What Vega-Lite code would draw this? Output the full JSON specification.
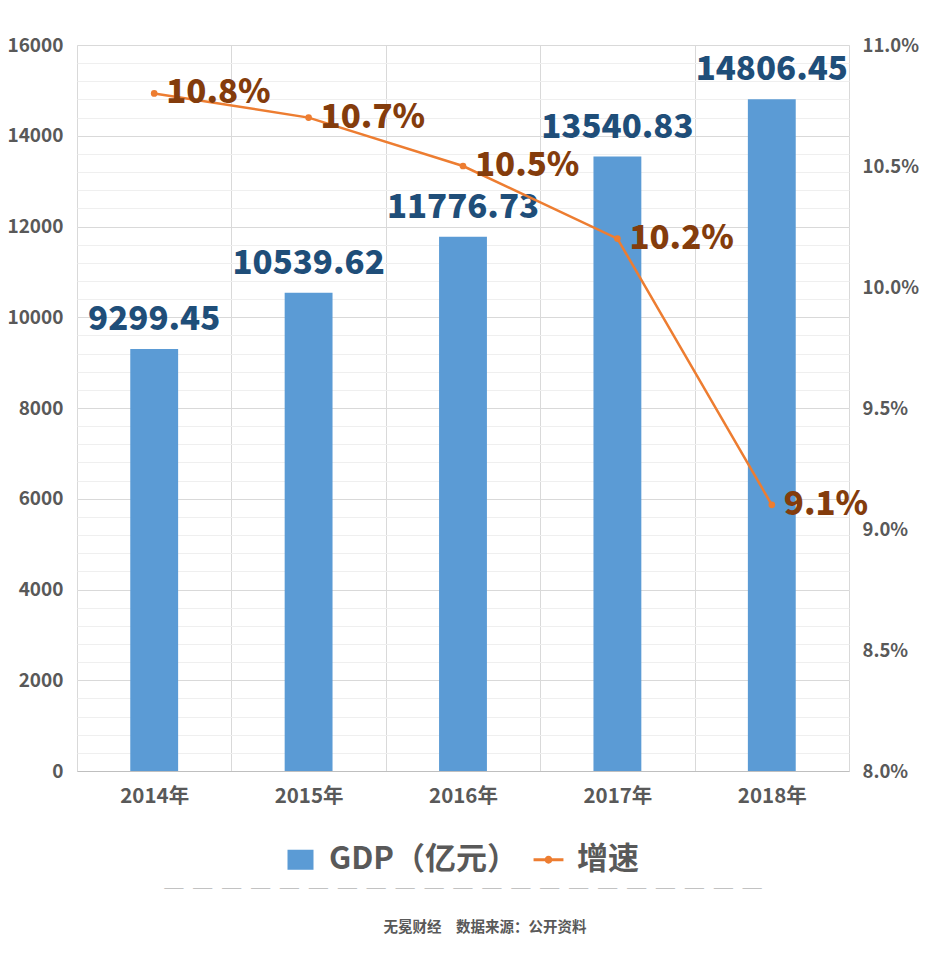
{
  "$schema": "https://vega.github.io/schema/vega-lite/v6.json",
  "width": 772,
  "height": 726,
  "autosize": "none",
  "padding": {"left": 77, "top": 45, "right": 82, "bottom": 189},
  "background": "white",
  "config": {
    "view": {"stroke": "#d9d9d9"},
    "font": "Noto Sans CJK SC"
  },
  "data": {
    "values": [
      {"year": "2014年", "gdp": 9299.45, "pct": 0.108},
      {"year": "2015年", "gdp": 10539.62, "pct": 0.107},
      {"year": "2016年", "gdp": 11776.73, "pct": 0.105},
      {"year": "2017年", "gdp": 13540.83, "pct": 0.102},
      {"year": "2018年", "gdp": 14806.45, "pct": 0.091}
    ]
  },
  "encoding": {
    "x": {
      "field": "year",
      "type": "ordinal",
      "sort": null,
      "scale": {"paddingInner": 0, "paddingOuter": 0},
      "axis": {
        "title": null,
        "labelAngle": 0,
        "grid": true,
        "tickBand": "extent",
        "gridColor": "#d9d9d9",
        "domainColor": "#bfbfbf",
        "ticks": false,
        "labelPadding": 15,
        "labelFontSize": 20.5,
        "labelFontWeight": "bold",
        "labelColor": "#595959"
      }
    }
  },
  "layer": [
    {
      "layer": [
        {
          "mark": {"type": "bar", "width": {"band": 0.31}, "color": "#5B9BD5"},
          "encoding": {
            "y": {
              "field": "gdp",
              "type": "quantitative",
              "scale": {"domain": [0, 16000], "nice": false},
              "axis": {
                "orient": "right",
                "values": [0,400,800,1200,1600,2000,2400,2800,3200,3600,4000,4400,4800,5200,5600,6000,6400,6800,7200,7600,8000,8400,8800,9200,9600,10000,10400,10800,11200,11600,12000,12400,12800,13200,13600,14000,14400,14800,15200,15600,16000],
                "grid": true,
                "gridColor": "#efefef",
                "labels": false,
                "ticks": false,
                "domain": false,
                "title": null
              }
            },
            "color": {
              "datum": "GDP（亿元）",
              "type": "nominal",
              "scale": {"domain": ["GDP（亿元）", "增速"], "range": ["#5B9BD5", "#ED7D31"]},
              "legend": {
                "title": null,
                "orient": "none",
                "direction": "horizontal",
                "legendX": 208,
                "legendY": 799,
                "labelFontSize": 31,
                "labelFontWeight": "bold",
                "labelColor": "#595959",
                "labelLimit": 400,
                "symbolSize": 676,
                "columnPadding": 14,
                "labelOffset": 13,
                "encode": {
                  "symbols": {
                    "update": {
                      "shape": {"signal": "datum.value === '增速' ? 'M-1.15,-0.115H1.15V0.115H-1.15Z M0.3,0 A0.3,0.3 0 1,1 -0.3,0 A0.3,0.3 0 1,1 0.3,0Z' : 'M-1,-0.77H1V0.77H-1Z'"},
                      "fill": {"signal": "datum.value === '增速' ? '#ED7D31' : '#5B9BD5'"},
                      "strokeWidth": {"value": 0},
                      "opacity": {"value": 1}
                    }
                  }
                }
              }
            }
          }
        },
        {
          "mark": {"type": "text", "fontSize": 33, "fontWeight": 900, "color": "#1F4E79", "baseline": "bottom", "dy": -12},
          "encoding": {
            "y": {
              "field": "gdp",
              "type": "quantitative",
              "scale": {"domain": [0, 16000], "nice": false},
              "axis": {
                "orient": "left",
                "values": [0,2000,4000,6000,8000,10000,12000,14000,16000],
                "format": "d",
                "grid": true,
                "gridColor": "#d9d9d9",
                "domain": false,
                "ticks": false,
                "labelPadding": 14,
                "labelFontSize": 19,
                "labelFontWeight": "bold",
                "labelColor": "#595959",
                "title": null
              }
            },
            "text": {"field": "gdp", "type": "quantitative", "format": ".2f"}
          }
        }
      ]
    },
    {
      "encoding": {
        "y": {
          "field": "pct",
          "type": "quantitative",
          "scale": {"domain": [0.08, 0.11], "nice": false, "zero": false},
          "axis": {
            "orient": "right",
            "values": [0.08, 0.085, 0.09, 0.095, 0.1, 0.105, 0.11],
            "format": ".1%",
            "grid": false,
            "domain": false,
            "ticks": false,
            "labelPadding": 13,
            "labelFontSize": 18.5,
            "labelFontWeight": "bold",
            "labelColor": "#595959",
            "title": null
          }
        }
      },
      "layer": [
        {
          "mark": {"type": "line", "strokeWidth": 2.5, "point": {"filled": true, "size": 45, "color": "#ED7D31"}},
          "encoding": {
            "color": {"datum": "增速", "type": "nominal"}
          }
        },
        {
          "mark": {"type": "text", "fontSize": 33, "fontWeight": 900, "color": "#843C0C", "align": "left", "baseline": "middle", "dx": 12},
          "encoding": {
            "text": {"field": "pct", "type": "quantitative", "format": ".1%"}
          }
        }
      ]
    }
  ],
  "resolve": {"scale": {"y": "independent"}},
  "title": {
    "text": "─\u2002─\u2002─\u2002─\u2002─\u2002─\u2002─\u2002─\u2002─\u2002─\u2002─\u2002─\u2002─\u2002─\u2002─\u2002─\u2002─\u2002─\u2002─\u2002─\u2002─",
    "orient": "bottom",
    "anchor": "middle",
    "fontSize": 19.3,
    "fontWeight": "normal",
    "color": "#b4b4b4",
    "offset": 6,
    "subtitle": "\u2800\u2800\u2800\u2800无冕财经\u3000数据来源：公开资料",
    "subtitleFontSize": 14.5,
    "subtitleColor": "#595959",
    "subtitleFontWeight": "bold",
    "subtitlePadding": 21
  }
}
